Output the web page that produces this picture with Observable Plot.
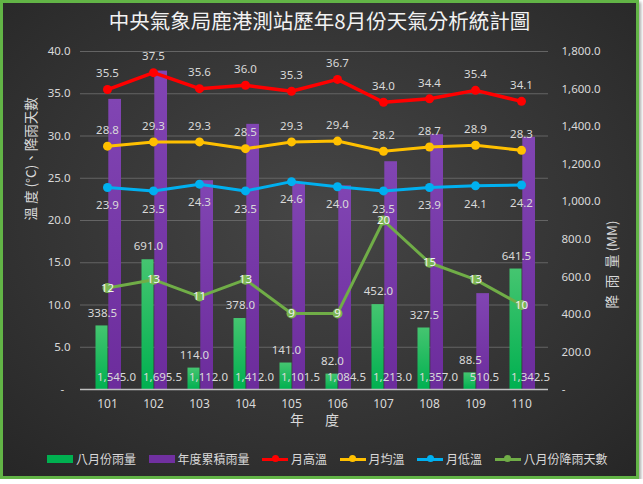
<!DOCTYPE html>
<html><head><meta charset="utf-8">
<script src="https://cdn.jsdelivr.net/npm/d3@7"></script>
<script src="https://cdn.jsdelivr.net/npm/@observablehq/plot@0.6"></script>
<style>
html,body{margin:0;padding:0;background:#fff;}
#frame{position:relative;box-sizing:border-box;width:639px;height:479px;border:3px solid #62b446;
 background:radial-gradient(ellipse 75% 75% at 50% 45%, #464646 0%, #333333 60%, #262626 100%);
 box-shadow:2px 2px 3px rgba(0,0,0,0.35);font-family:"Noto Sans","Noto Sans CJK TC",sans-serif;overflow:hidden;}
#title{height:34px;line-height:34px;text-align:center;color:#f2f2f2;font-family:"Noto Sans CJK TC",sans-serif;font-size:20.5px;}
#chart svg{display:block;}
#legend{position:absolute;left:44px;top:447px;height:18px;display:flex;align-items:center;color:#d9d9d9;
 font-family:"Noto Sans CJK TC",sans-serif;font-size:12px;line-height:18px;}
.item{display:flex;align-items:center;margin-right:12.5px;}
.sw{width:26px;height:8px;margin-right:3px;}
.ln{position:relative;width:26px;height:3px;margin-right:3px;}
.ln i{position:absolute;left:9.5px;top:-2.5px;width:7px;height:7px;border-radius:50%;background:inherit;}
</style></head>
<body>
<div id="frame">
 <div id="title">中央氣象局鹿港測站歷年8月份天氣分析統計圖</div>
 <div id="chart"></div>
 <div id="legend"></div>
</div>
<script>
const years = ["101","102","103","104","105","106","107","108","109","110"];
const augRain = [338.5, 691.0, 114.0, 378.0, 141.0, 82.0, 452.0, 327.5, 88.5, 641.5];
const annualRain = [1545.0, 1695.5, 1112.0, 1412.0, 1101.5, 1084.5, 1213.0, 1357.0, 510.5, 1342.5];
const maxT = [35.5, 37.5, 35.6, 36.0, 35.3, 36.7, 34.0, 34.4, 35.4, 34.1];
const avgT = [28.8, 29.3, 29.3, 28.5, 29.3, 29.4, 28.2, 28.7, 28.9, 28.3];
const minT = [23.9, 23.5, 24.3, 23.5, 24.6, 24.0, 23.5, 23.9, 24.1, 24.2];
const rainDays = [12, 13, 11, 13, 9, 9, 20, 15, 13, 10];
const tempTicks = [0, 5, 10, 15, 20, 25, 30, 35, 40];
const rainTicks = [0, 200, 400, 600, 800, 1000, 1200, 1400, 1600, 1800];
const seriesNames = ["八月份雨量", "年度累積雨量", "月高溫", "月均溫", "月低溫", "八月份降雨天數"];
const seriesColors = ["#00b050", "#7030a0", "#ff0000", "#ffc000", "#00b0f0", "#70ad47"];

const data = years.map((y, i) => ({year: y, aug: augRain[i], annual: annualRain[i], hi: maxT[i], avg: avgT[i], lo: minT[i], days: rainDays[i]}));
const R = rainTicks[rainTicks.length - 1] / tempTicks[tempTicks.length - 1]; // mm per left-axis unit
const f1 = d3.format(".1f"), fc = d3.format(",.1f");
const numFont = '"Noto Sans","Noto Sans CJK TC",sans-serif';
const cjkFont = '"Noto Sans CJK TC",sans-serif';
const lbl = "#d9d9d9";

function series(key, color, width, labelDy) {
  return [
    Plot.line(data, {x: "year", y: key, stroke: color, strokeWidth: width}),
    Plot.dot(data, {x: "year", y: key, fill: color, r: 4.5}),
    Plot.text(data, {x: "year", y: key, text: d => f1(d[key]), dy: labelDy, fill: lbl, fontSize: 11.5})
  ];
}

const chart = Plot.plot({
  width: 633, height: 403, marginTop: 14, marginBottom: 51, marginLeft: 77, marginRight: 88,
  style: {background: "transparent", color: lbl, fontSize: "11.5px", fontFamily: numFont},
  x: {domain: years, padding: 0, label: null},
  y: {domain: [0, 40], label: null},
  marks: [
    Plot.gridY(tempTicks.filter(t => t > 0), {stroke: "#646464", strokeOpacity: 1, strokeWidth: 1}),
    Plot.axisY(tempTicks.filter(t => t > 0), {anchor: "left", tickSize: 0, tickPadding: 10, tickFormat: f1, label: null, fill: lbl}),
    Plot.axisY(rainTicks.filter(t => t > 0).map(v => v / R), {anchor: "right", tickSize: 0, tickPadding: 13, tickFormat: d => fc(Math.round(d * R)), label: null, fill: lbl}),
    Plot.text(tempTicks.filter(t => t === 0), {y: d => d, frameAnchor: "left", textAnchor: "start", dx: -20, text: () => "-", fill: lbl}),
    Plot.text(rainTicks.filter(t => t === 0), {y: d => d / R, frameAnchor: "right", textAnchor: "end", dx: 17, text: () => "-", fill: lbl}),
    Plot.axisX({tickSize: 0, tickPadding: 10, label: null, fontSize: 12, fill: lbl}),
    Plot.barY(data, {x: "year", y: d => d.aug / R, fill: "url(#gGreen)", insetLeft: 11.5, insetRight: 22.5}),
    Plot.barY(data, {x: "year", y: d => d.annual / R, fill: "url(#gPurple)", insetLeft: 24.3, insetRight: 9}),
    Plot.ruleY([0], {stroke: "#bfbfbf", strokeWidth: 1.5}),
    Plot.text(data, {x: "year", y: d => d.aug / R, text: d => fc(d.aug), dx: -5, dy: -13, fill: lbl, fontSize: 11.5}),
    Plot.text(data, {x: "year", y: () => 0, text: d => fc(d.annual), dx: 9, dy: -12, fill: lbl, fontSize: 11.5}),
    ...series("hi", seriesColors[2], 3.5, -16),
    ...series("avg", seriesColors[3], 3, -16),
    ...series("lo", seriesColors[4], 3, 18),
    Plot.line(data, {x: "year", y: "days", stroke: seriesColors[5], strokeWidth: 3}),
    Plot.dot(data, {x: "year", y: "days", fill: "#7cb653", r: 5}),
    Plot.text(data, {x: "year", y: "days", text: d => String(d.days), fill: "#f2f2f2", fontSize: 11.5}),
    Plot.text(["溫 度 (°C)、降雨天數"], {frameAnchor: "left", dx: -49, rotate: -90, text: d => d, fill: lbl, fontSize: 13.5, fontFamily: cjkFont}),
    Plot.text(["降\u2002雨\u2002量 (MM)"], {frameAnchor: "right", dx: 64, rotate: -90, text: d => d, fill: lbl, fontSize: 13.5, fontFamily: cjkFont}),
    Plot.text(["年\u3000\u2002度"], {frameAnchor: "bottom", dy: 35, text: d => d, fill: lbl, fontSize: 14, fontFamily: cjkFont})
  ]
});

const defs = document.createElementNS("http://www.w3.org/2000/svg", "defs");
defs.innerHTML = '<linearGradient id="gGreen" x1="0" y1="0" x2="0" y2="1"><stop offset="0" stop-color="#45c570"/><stop offset="1" stop-color="#00b050"/></linearGradient>' +
  '<linearGradient id="gPurple" x1="0" y1="0" x2="0" y2="1"><stop offset="0" stop-color="#8145b3"/><stop offset="1" stop-color="#6c2c9c"/></linearGradient>';
chart.insertBefore(defs, chart.firstChild);
document.getElementById("chart").appendChild(chart);

const legend = document.getElementById("legend");
seriesNames.forEach((name, i) => {
  const item = document.createElement("div");
  item.className = "item";
  if (i < 2) {
    item.innerHTML = `<div class="sw" style="background:${seriesColors[i]}"></div><span>${name}</span>`;
  } else {
    item.innerHTML = `<div class="ln" style="background:${seriesColors[i]}"><i></i></div><span>${name}</span>`;
  }
  legend.appendChild(item);
});
</script>
</body></html>
